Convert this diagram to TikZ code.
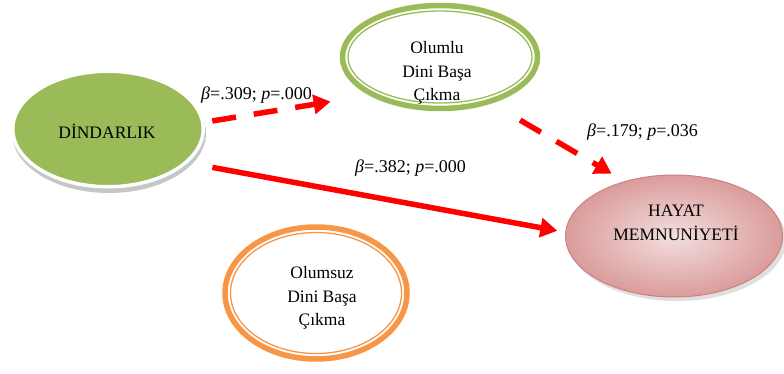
\documentclass[tikz,border=0pt]{standalone}
\usepackage{fontspec}
\setmainfont{Liberation Serif}
\usetikzlibrary{shapes.geometric,arrows.meta}

\definecolor{dingreen}{HTML}{9BBB59}
\definecolor{olumluline}{HTML}{9BBB59}
\definecolor{olumsuzline}{HTML}{F79646}
\definecolor{hayatin}{HTML}{F3DEDE}
\definecolor{hayatout}{HTML}{DA9C9B}
\definecolor{hayatline}{HTML}{CD8180}

\begin{document}
\begin{tikzpicture}[x=1pt,y=-1pt,>={Triangle[length=17pt,width=19pt]}]
    \tikzstyle{construct}=[ellipse,inner sep=0pt]
    \tikzstyle{green construct}=[construct,fill=dingreen,draw=white,line width=3.5pt]
    \tikzstyle{ring construct}=[construct,fill=white,line width=5.5pt]
    \tikzstyle{pink construct}=[construct,shading=radial,inner color=hayatin,outer color=hayatout,draw=hayatline,line width=1pt]
    \tikzstyle{construct text}=[align=center,font=\fontsize{17.5}{23.5}\selectfont]
    \tikzstyle{effect}=[->,draw=red,line width=5.5pt]
    \tikzstyle{dashed effect}=[effect,dash pattern=on 24pt off 18pt]
    \tikzstyle{coef}=[anchor=base west,inner sep=0pt,font=\fontsize{18}{20}\selectfont]

    \useasboundingbox (0,0) rectangle (784,374);

    % Draw the shadows
    \fill[gray!45] (109,133) ellipse [x radius=97, y radius=60];
    \fill[gray!25] (677,240) ellipse [x radius=109, y radius=61];

    % Draw the constructs
    \node[green construct, minimum width=190.5pt, minimum height=115.5pt] (dindarlik) at (108,129) {};
    \node[ring construct, draw=olumluline, minimum width=195pt, minimum height=103pt] (olumlu) at (440,57) {};
    \node[ring construct, draw=olumsuzline, minimum width=182pt, minimum height=132pt] (olumsuz) at (316,293) {};
    \node[pink construct, minimum width=217pt, minimum height=122pt] (hayat) at (674,236) {};

    % Inner rings
    \draw[olumluline, line width=1.3pt] (olumlu.center) ellipse [x radius=92, y radius=46];
    \draw[olumsuzline, line width=1.3pt] (olumsuz.center) ellipse [x radius=85.5, y radius=60.5];

    % Texts of the constructs
    \node[construct text] (dindarlik-t) at (107,131) {DİNDARLIK};
    \node[construct text] (olumlu-t) at (437,73) {Olumlu\\Dini Başa\\Çıkma};
    \node[construct text] (olumsuz-t) at (322,298) {Olumsuz\\Dini Başa\\Çıkma};
    \node[construct text] (hayat-t) at (676,223) {HAYAT\\MEMNUNİYETİ};

    % Draw the effects
    \draw[dashed effect, shorten <=8pt, shorten >=39pt] (dindarlik.4) -- (olumlu.south west);
    \draw[dashed effect, shorten <=33pt, shorten >=15pt] (olumlu.-42) -- (hayat.132);
    \draw[effect, shorten <=25pt, shorten >=8pt] (dindarlik.-23) -- (hayat.178);

    % Annotate the effects
    \node[coef] (b1) at (201,100) {{\itshape β}=.309; {\itshape p}=.000};
    \node[coef] (b2) at (355,173) {{\itshape β}=.382; {\itshape p}=.000};
    \node[coef] (b3) at (587,137) {{\itshape β}=.179; {\itshape p}=.036};
\end{tikzpicture}
\end{document}
